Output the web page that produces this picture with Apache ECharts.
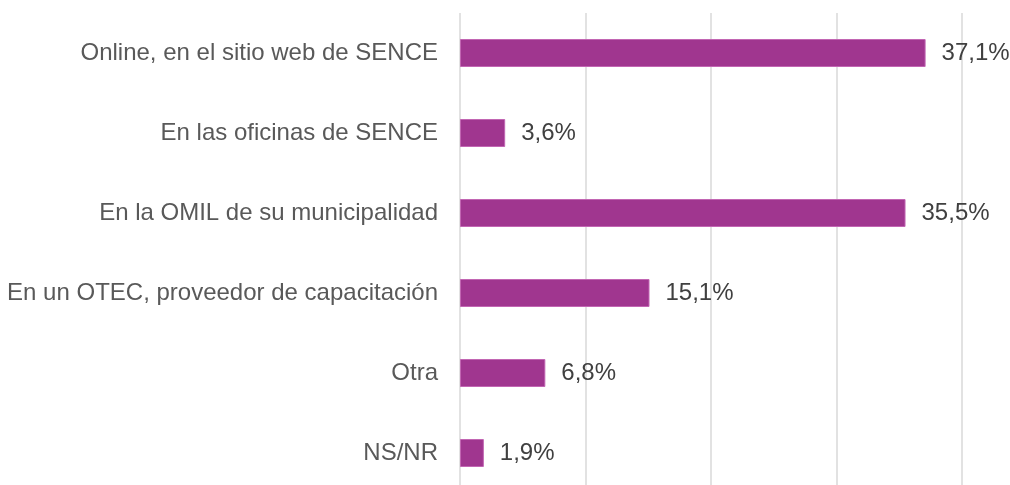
<!DOCTYPE html>
<html>
<head>
<meta charset="utf-8">
<script src="https://cdn.jsdelivr.net/npm/echarts@6/dist/echarts.min.js"></script>
<style>
  html, body { margin: 0; padding: 0; background: #fff; overflow: hidden; }
  #chart { width: 1010px; height: 500px; }
</style>
</head>
<body>
<div id="chart"></div>
<script>
// categories top to bottom, as in the picture
const categories = [
  'Online, en el sitio web de SENCE',
  'En las oficinas de SENCE',
  'En la OMIL de su municipalidad',
  'En un OTEC, proveedor de capacitación',
  'Otra',
  'NS/NR'
];
const values = [37.1, 3.6, 35.5, 15.1, 6.8, 1.9];
const axisMin = 0, axisMax = 40, axisStep = 10;

// the plot runs past the bottom edge of the 485px window, like the original
const chart = echarts.init(document.getElementById('chart'));
chart.setOption({
  animation: false,
  textStyle: { fontFamily: 'Liberation Sans, Arial, sans-serif' },
  grid: { left: 460, top: 13, width: 502, height: 480 },
  xAxis: {
    type: 'value',
    min: axisMin, max: axisMax, interval: axisStep,
    axisLabel: { show: false },
    axisLine: { show: false },
    axisTick: { show: false },
    splitLine: { lineStyle: { color: '#d9d9d9', width: 1.5 } }
  },
  yAxis: {
    type: 'category',
    inverse: true,
    data: categories,
    axisLine: { show: false },
    axisTick: { show: false },
    axisLabel: { color: '#595959', fontSize: 24, margin: 22 }
  },
  series: [{
    type: 'bar',
    data: values,
    barWidth: 28,
    itemStyle: { color: '#a0368f', borderColor: '#c266b3', borderWidth: 1 },
    label: {
      show: true,
      position: 'right',
      distance: 16,
      color: '#404040',
      fontSize: 24,
      formatter: p => p.value.toFixed(1).replace('.', ',') + '%'
    }
  }]
});
</script>
</body>
</html>
